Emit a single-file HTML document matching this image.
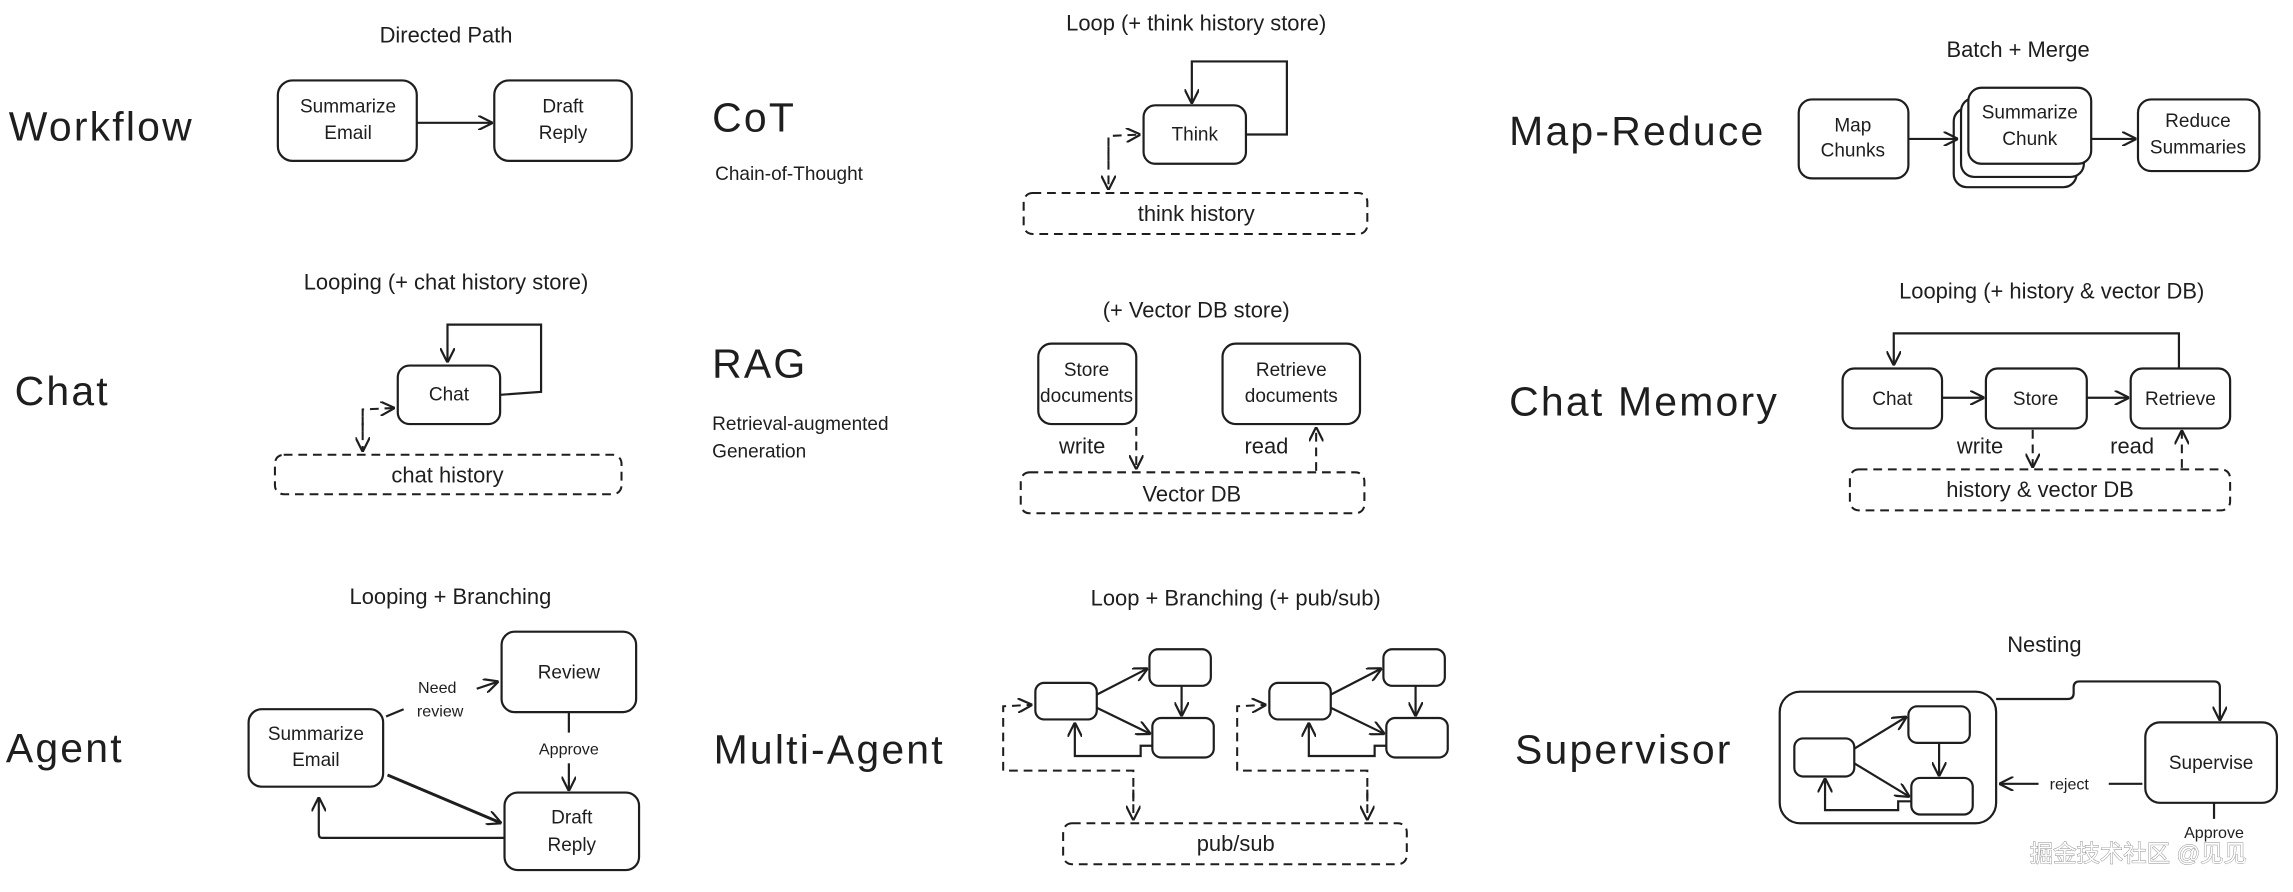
<!DOCTYPE html>
<html><head><meta charset="utf-8"><style>
html,body{margin:0;padding:0;background:#fff;}
svg{display:block;}
text{font-family:"Liberation Sans","Noto Sans CJK SC",sans-serif;fill:#1e1e1e;}
.t{font-size:28px;letter-spacing:1.5px;}
.s{font-size:15px;text-anchor:middle;}
.n{font-size:13px;text-anchor:middle;}
.sm{font-size:11px;text-anchor:middle;}
.b{fill:none;stroke:#1e1e1e;stroke-width:1.5;}
.d{fill:none;stroke:#1e1e1e;stroke-width:1.4;stroke-dasharray:6 4;}
</style></head><body>
<svg width="2293" height="892" viewBox="0 0 1568 610" preserveAspectRatio="none" xmlns="http://www.w3.org/2000/svg">
<defs>
<marker id="a" viewBox="0 0 10 10" refX="10" refY="5" markerWidth="10" markerHeight="10" markerUnits="userSpaceOnUse" orient="auto">
<path d="M0,0 L10,5 L0,10" fill="none" stroke="#1e1e1e" stroke-width="1.5"/></marker>
</defs>

<!-- Row 1 -->
<text class="t" x="6" y="96">Workflow</text>
<text class="s" x="305" y="29">Directed Path</text>
<rect class="b" x="190" y="55" width="95" height="55" rx="10"/>
<text class="n" x="238" y="77">Summarize</text><text class="n" x="238" y="95">Email</text>
<rect class="b" x="338" y="55" width="94" height="55" rx="10"/>
<text class="n" x="385" y="77">Draft</text><text class="n" x="385" y="95">Reply</text>
<path class="b" d="M285,84 L337,84" marker-end="url(#a)"/>

<text class="t" x="487" y="90">CoT</text>
<text x="489" y="123" style="font-size:13px">Chain-of-Thought</text>
<text class="s" x="818" y="21">Loop (+ think history store)</text>
<rect class="b" x="782" y="72" width="70" height="40" rx="8"/>
<text class="n" x="817" y="96">Think</text>
<path class="b" d="M852,92 L880,92 L880,42 L815,42 L815,71" marker-end="url(#a)"/>
<path class="d" d="M758,110 L758,93 L780,92" marker-end="url(#a)"/>
<path class="d" d="M758,100 L758,130" marker-end="url(#a)"/>
<rect class="d" x="700" y="132" width="235" height="28" rx="6"/>
<text class="s" x="818" y="151">think history</text>

<text class="t" x="1032" y="99">Map-Reduce</text>
<text class="s" x="1380" y="39">Batch + Merge</text>
<rect class="b" x="1230" y="68" width="75" height="54" rx="9"/>
<text class="n" x="1267" y="90">Map</text><text class="n" x="1267" y="107">Chunks</text>
<rect class="b" x="1336" y="74" width="84" height="54" rx="9" fill="#fff"/>
<rect class="b" x="1341" y="67" width="84" height="54" rx="9" style="fill:#fff"/>
<rect class="b" x="1346" y="60" width="84" height="52" rx="9" style="fill:#fff"/>
<text class="n" x="1388" y="81">Summarize</text><text class="n" x="1388" y="99">Chunk</text>
<rect class="b" x="1462" y="68" width="83" height="49" rx="9"/>
<text class="n" x="1503" y="87">Reduce</text><text class="n" x="1503" y="105">Summaries</text>
<path class="b" d="M1305,95 L1339,95" marker-end="url(#a)"/>
<path class="b" d="M1430,95 L1461,95" marker-end="url(#a)"/>

<!-- Row 2 -->
<text class="t" x="10" y="277">Chat</text>
<text class="s" x="305" y="198">Looping (+ chat history store)</text>
<rect class="b" x="272" y="250" width="70" height="40" rx="8"/>
<text class="n" x="307" y="274">Chat</text>
<path class="b" d="M342,270 L370,268 L370,222 L306,222 L306,248" marker-end="url(#a)"/>
<path class="d" d="M248,295 L248,280 L270,279" marker-end="url(#a)"/>
<path class="d" d="M248,285 L248,309" marker-end="url(#a)"/>
<rect class="d" x="188" y="311" width="237" height="27" rx="6"/>
<text class="s" x="306" y="330">chat history</text>

<text class="t" x="487" y="258">RAG</text>
<text x="487" y="294" style="font-size:13px">Retrieval-augmented</text>
<text x="487" y="313" style="font-size:13px">Generation</text>
<text class="s" x="818" y="217">(+ Vector DB store)</text>
<rect class="b" x="710" y="235" width="67" height="55" rx="9"/>
<text class="n" x="743" y="257">Store</text><text class="n" x="743" y="275">documents</text>
<rect class="b" x="836" y="235" width="94" height="55" rx="9"/>
<text class="n" x="883" y="257">Retrieve</text><text class="n" x="883" y="275">documents</text>
<text class="s" x="740" y="310">write</text>
<path class="d" d="M777,292 L777,321" marker-end="url(#a)"/>
<text class="s" x="866" y="310">read</text>
<path class="d" d="M900,322 L900,292" marker-end="url(#a)"/>
<rect class="d" x="698" y="323" width="235" height="28" rx="6"/>
<text class="s" x="815" y="343">Vector DB</text>

<text class="t" x="1032" y="284">Chat Memory</text>
<text class="s" x="1403" y="204">Looping (+ history &amp; vector DB)</text>
<rect class="b" x="1260" y="252" width="68" height="41" rx="8"/>
<text class="n" x="1294" y="277">Chat</text>
<rect class="b" x="1358" y="252" width="69" height="41" rx="8"/>
<text class="n" x="1392" y="277">Store</text>
<rect class="b" x="1457" y="252" width="68" height="41" rx="8"/>
<text class="n" x="1491" y="277">Retrieve</text>
<path class="b" d="M1328,272 L1357,272" marker-end="url(#a)"/>
<path class="b" d="M1427,272 L1456,272" marker-end="url(#a)"/>
<path class="b" d="M1490,252 L1490,228 L1295,228 L1295,250" marker-end="url(#a)"/>
<text class="s" x="1354" y="310">write</text>
<path class="d" d="M1390,294 L1390,320" marker-end="url(#a)"/>
<text class="s" x="1458" y="310">read</text>
<path class="d" d="M1492,320 L1492,294" marker-end="url(#a)"/>
<rect class="d" x="1265" y="321" width="260" height="28" rx="6"/>
<text class="s" x="1395" y="340">history &amp; vector DB</text>

<!-- Row 3 -->
<text class="t" x="4" y="521">Agent</text>
<text class="s" x="308" y="413">Looping + Branching</text>
<rect class="b" x="170" y="485" width="92" height="53" rx="9"/>
<text class="n" x="216" y="506">Summarize</text><text class="n" x="216" y="524">Email</text>
<rect class="b" x="343" y="432" width="92" height="55" rx="9"/>
<text class="n" x="389" y="464">Review</text>
<rect class="b" x="345" y="542" width="92" height="53" rx="9"/>
<text class="n" x="391" y="563">Draft</text><text class="n" x="391" y="582">Reply</text>
<text class="sm" x="299" y="474">Need</text><text class="sm" x="301" y="490">review</text>
<path class="b" d="M264,490 L276,485"/>
<path class="b" d="M326,471 L341,466" marker-end="url(#a)"/>
<path class="b" d="M389,487 L389,501"/>
<text class="sm" x="389" y="516">Approve</text>
<path class="b" d="M389,522 L389,541" marker-end="url(#a)"/>
<path class="b" d="M265,530 L343,563" marker-end="url(#a)" style="stroke-width:2"/>
<path class="b" d="M345,573 L220,573 Q218,573 218,570 L218,545" marker-end="url(#a)"/>

<text class="t" x="488" y="522">Multi-Agent</text>
<text class="s" x="845" y="414">Loop + Branching (+ pub/sub)</text>
<g id="cl">
<rect class="b" x="708" y="467" width="42" height="25" rx="6"/>
<rect class="b" x="786" y="444" width="42" height="25" rx="6"/>
<rect class="b" x="788" y="491" width="42" height="27" rx="6"/>
<path class="b" d="M750,475 L785,457" marker-end="url(#a)"/>
<path class="b" d="M750,484 L787,502" marker-end="url(#a)"/>
<path class="b" d="M808,469 L808,490" marker-end="url(#a)"/>
<path class="b" d="M788,510 L780,510 L780,517 L735,517 L735,494" marker-end="url(#a)"/>
<path class="d" d="M775,548 L775,527 L686,527 L686,483 L706,482" marker-end="url(#a)"/>
<path class="d" d="M775,540 L775,561" marker-end="url(#a)"/>
</g>
<use href="#cl" x="160" y="0"/>
<rect class="d" x="727" y="563" width="235" height="28" rx="6"/>
<text class="s" x="845" y="582">pub/sub</text>

<text class="t" x="1036" y="522">Supervisor</text>
<text class="s" x="1398" y="446">Nesting</text>
<rect class="b" x="1217" y="473" width="148" height="90" rx="14"/>
<rect class="b" x="1227" y="505" width="41" height="26" rx="6"/>
<rect class="b" x="1305" y="483" width="42" height="25" rx="6"/>
<rect class="b" x="1307" y="532" width="42" height="25" rx="6"/>
<path class="b" d="M1268,512 L1304,490" marker-end="url(#a)"/>
<path class="b" d="M1268,522 L1306,545" marker-end="url(#a)"/>
<path class="b" d="M1326,508 L1326,531" marker-end="url(#a)"/>
<path class="b" d="M1307,548 L1298,548 L1298,554 L1248,554 L1248,532" marker-end="url(#a)"/>
<path class="b" d="M1365,478 L1414,478 Q1418,478 1418,474 L1418,470 Q1418,466 1422,466 L1514,466 Q1518,466 1518,470 L1518,493" marker-end="url(#a)"/>
<rect class="b" x="1467" y="494" width="90" height="55" rx="10"/>
<text class="n" x="1512" y="526">Supervise</text>
<path class="b" d="M1465,536 L1442,536"/>
<text class="sm" x="1415" y="540">reject</text>
<path class="b" d="M1394,536 L1367,536" marker-end="url(#a)"/>
<path class="b" d="M1514,549 L1514,560"/>
<text class="sm" x="1514" y="573">Approve</text>
<text x="1388" y="589" style="font-size:16px;fill:#fff;stroke:#888;stroke-width:0.6;paint-order:stroke;">掘金技术社区 @见见</text>
</svg>
</body></html>
